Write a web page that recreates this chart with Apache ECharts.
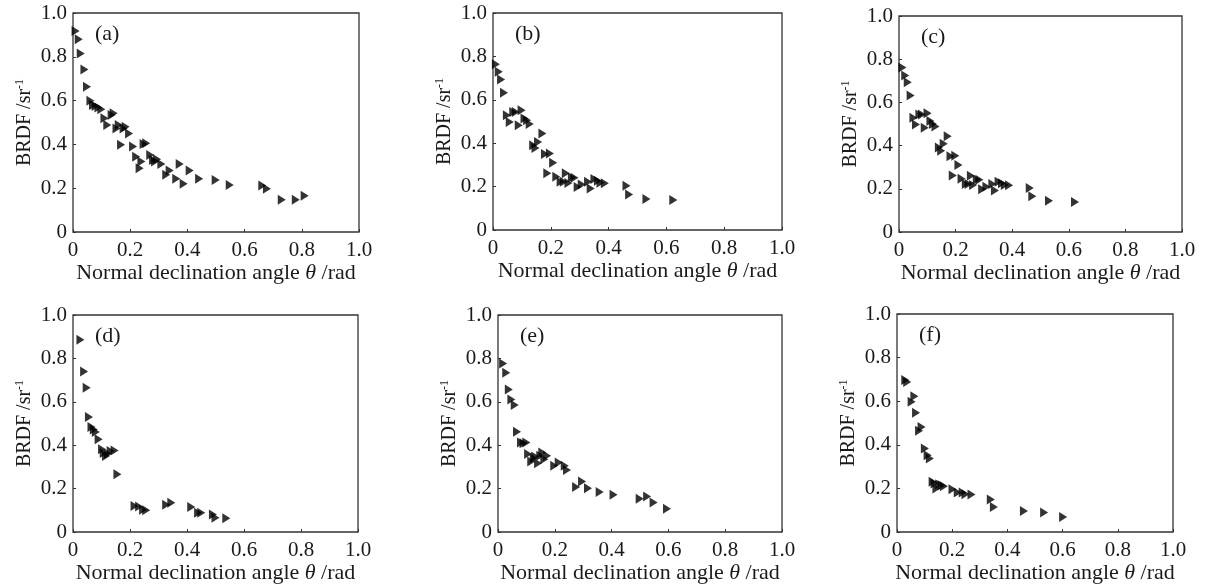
<!DOCTYPE html>
<html>
<head>
<meta charset="utf-8">
<script src="https://cdn.jsdelivr.net/npm/echarts@6/dist/echarts.min.js"></script>
<style>
  html, body { margin: 0; padding: 0; background: #fff; }
  #chart { width: 1210px; height: 586px; }
</style>
</head>
<body>
<div id="chart"></div>
<script>
// BRDF vs normal declination angle, six panels (a)-(f)
const panelLabels = ['(a)', '(b)', '(c)', '(d)', '(e)', '(f)']

const pointsA = [
  [0.009, 0.918], [0.02, 0.88], [0.027, 0.815], [0.04, 0.742], [0.049, 0.663],
  [0.061, 0.599], [0.07, 0.58], [0.079, 0.575], [0.089, 0.569], [0.099, 0.561],
  [0.11, 0.519], [0.12, 0.489], [0.135, 0.534], [0.142, 0.542], [0.152, 0.473],
  [0.16, 0.489], [0.177, 0.473], [0.184, 0.481], [0.196, 0.45], [0.168, 0.398],
  [0.21, 0.39], [0.221, 0.344], [0.233, 0.291], [0.239, 0.322], [0.247, 0.402],
  [0.256, 0.405], [0.27, 0.352], [0.28, 0.329], [0.287, 0.322], [0.294, 0.332],
  [0.309, 0.311], [0.326, 0.261], [0.338, 0.281], [0.361, 0.243], [0.373, 0.311],
  [0.387, 0.22], [0.408, 0.281], [0.441, 0.243], [0.499, 0.238], [0.548, 0.215],
  [0.662, 0.212], [0.678, 0.197], [0.73, 0.147], [0.779, 0.147], [0.81, 0.165]
]

const pointsB = [
  [0.01, 0.764], [0.02, 0.729], [0.028, 0.693], [0.038, 0.632], [0.048, 0.529],
  [0.058, 0.498], [0.07, 0.544], [0.079, 0.544], [0.089, 0.483], [0.099, 0.552],
  [0.109, 0.514], [0.118, 0.506], [0.127, 0.488], [0.139, 0.391], [0.147, 0.378],
  [0.156, 0.406], [0.171, 0.445], [0.18, 0.35], [0.197, 0.353], [0.208, 0.31],
  [0.188, 0.261], [0.219, 0.245], [0.234, 0.222], [0.245, 0.222], [0.252, 0.261],
  [0.261, 0.217], [0.273, 0.242], [0.282, 0.241], [0.293, 0.198], [0.307, 0.21],
  [0.329, 0.222], [0.338, 0.191], [0.351, 0.235], [0.363, 0.227], [0.372, 0.218],
  [0.387, 0.216], [0.462, 0.204], [0.471, 0.164], [0.531, 0.143], [0.624, 0.138]
]

const pointsC = [
  [0.012, 0.761], [0.022, 0.724], [0.031, 0.693], [0.041, 0.632], [0.051, 0.529],
  [0.06, 0.498], [0.072, 0.544], [0.081, 0.544], [0.091, 0.483], [0.101, 0.55],
  [0.111, 0.514], [0.12, 0.5], [0.129, 0.488], [0.141, 0.391], [0.149, 0.376],
  [0.158, 0.408], [0.172, 0.443], [0.182, 0.351], [0.199, 0.353], [0.21, 0.31],
  [0.19, 0.261], [0.221, 0.246], [0.236, 0.222], [0.246, 0.222], [0.254, 0.26],
  [0.262, 0.218], [0.275, 0.243], [0.284, 0.242], [0.294, 0.198], [0.309, 0.21],
  [0.33, 0.222], [0.339, 0.192], [0.352, 0.233], [0.364, 0.226], [0.374, 0.218],
  [0.389, 0.216], [0.462, 0.204], [0.471, 0.166], [0.53, 0.145], [0.622, 0.139]
]

const pointsD = [
  [0.026, 0.886], [0.039, 0.74], [0.048, 0.665], [0.056, 0.53], [0.065, 0.484],
  [0.073, 0.472], [0.08, 0.461], [0.09, 0.427], [0.102, 0.381], [0.108, 0.364],
  [0.116, 0.35], [0.123, 0.361], [0.132, 0.373], [0.146, 0.376], [0.156, 0.266],
  [0.216, 0.12], [0.232, 0.118], [0.246, 0.103], [0.257, 0.1], [0.327, 0.126],
  [0.345, 0.135], [0.415, 0.115], [0.439, 0.089], [0.45, 0.089], [0.491, 0.081],
  [0.5, 0.066], [0.538, 0.063]
]

const pointsE = [
  [0.018, 0.776], [0.029, 0.734], [0.038, 0.657], [0.047, 0.611], [0.059, 0.585],
  [0.067, 0.462], [0.081, 0.412], [0.09, 0.409], [0.1, 0.412], [0.106, 0.36],
  [0.117, 0.325], [0.126, 0.34], [0.131, 0.348], [0.141, 0.317], [0.149, 0.351],
  [0.156, 0.366], [0.163, 0.335], [0.173, 0.351], [0.198, 0.305], [0.214, 0.32],
  [0.235, 0.305], [0.243, 0.286], [0.275, 0.207], [0.296, 0.233], [0.317, 0.202],
  [0.358, 0.184], [0.407, 0.172], [0.499, 0.153], [0.525, 0.164], [0.548, 0.136],
  [0.595, 0.107]
]

const pointsF = [
  [0.03, 0.697], [0.037, 0.688], [0.053, 0.597], [0.063, 0.623], [0.069, 0.547],
  [0.08, 0.464], [0.089, 0.482], [0.101, 0.383], [0.111, 0.352], [0.119, 0.337],
  [0.129, 0.23], [0.136, 0.222], [0.143, 0.199], [0.153, 0.219], [0.162, 0.214],
  [0.17, 0.21], [0.201, 0.196], [0.22, 0.181], [0.238, 0.181], [0.248, 0.173],
  [0.27, 0.172], [0.34, 0.149], [0.351, 0.115], [0.46, 0.096], [0.533, 0.089],
  [0.602, 0.069]
]

const panelData = [pointsA, pointsB, pointsC, pointsD, pointsE, pointsF]

// plot box of each panel, in px
const boxes = [
  { left: 73, top: 13, width: 286, height: 219 },
  { left: 493, top: 13, width: 289, height: 217 },
  { left: 899, top: 16, width: 283, height: 216 },
  { left: 73, top: 315, width: 285, height: 217 },
  { left: 498, top: 315, width: 284, height: 217 },
  { left: 897, top: 314, width: 276, height: 218 }
]

const FONT = "'Liberation Serif', 'DejaVu Serif', serif"
const INK = '#1a1a1a'

const fmt = (v) => (v === 0 ? '0' : v.toFixed(1))

const chart = echarts.init(document.getElementById('chart'))

const grid = boxes.map((b) => ({
  ...b,
  show: true,
  borderColor: '#333',
  borderWidth: 1.3,
  backgroundColor: 'transparent'
}))

const tick = { show: true, inside: true, length: 3, lineStyle: { color: '#333', width: 1 } }

const xAxis = boxes.map((b, i) => ({
  type: 'value',
  gridIndex: i,
  min: 0,
  max: 1,
  interval: 0.2,
  name: '{t|Normal declination angle }{i|θ}{t| /rad}',
  nameLocation: 'middle',
  nameGap: 30,
  nameTextStyle: {
    rich: {
      t: { fontFamily: FONT, fontSize: 22, color: INK },
      i: { fontFamily: FONT, fontSize: 22, color: INK, fontStyle: 'italic' }
    }
  },
  axisLine: { show: false },
  axisTick: tick,
  splitLine: { show: false },
  axisLabel: {
    fontFamily: FONT, fontSize: 21, color: INK, margin: 8,
    formatter: fmt
  }
}))

const yAxis = boxes.map((b, i) => ({
  type: 'value',
  gridIndex: i,
  min: 0,
  max: 1,
  interval: 0.2,
  name: '{t|BRDF /sr}{s|-1}',
  nameLocation: 'middle',
  nameGap: 37,
  nameTextStyle: {
    rich: {
      t: { fontFamily: FONT, fontSize: 20, color: INK, lineHeight: 22 },
      s: { fontFamily: FONT, fontSize: 12, color: INK, lineHeight: 12, verticalAlign: 'top' }
    }
  },
  axisLine: { show: false },
  axisTick: tick,
  splitLine: { show: false },
  axisLabel: {
    fontFamily: FONT, fontSize: 21, color: INK, margin: 6,
    formatter: fmt
  }
}))

const series = panelData.map((pts, i) => ({
  type: 'scatter',
  xAxisIndex: i,
  yAxisIndex: i,
  data: pts,
  symbol: 'path://M0,0 L10,5 L0,10 Z',
  symbolSize: [8, 10],
  itemStyle: { color: '#000' },
  silent: true
}))

const graphic = boxes.map((b, i) => ({
  type: 'text',
  left: b.left + 22,
  top: b.top + 10,
  style: {
    text: panelLabels[i],
    fontFamily: FONT,
    fontSize: 22,
    fill: INK
  }
}))

chart.setOption({
  animation: false,
  grid,
  xAxis,
  yAxis,
  series,
  graphic
})
</script>
</body>
</html>
